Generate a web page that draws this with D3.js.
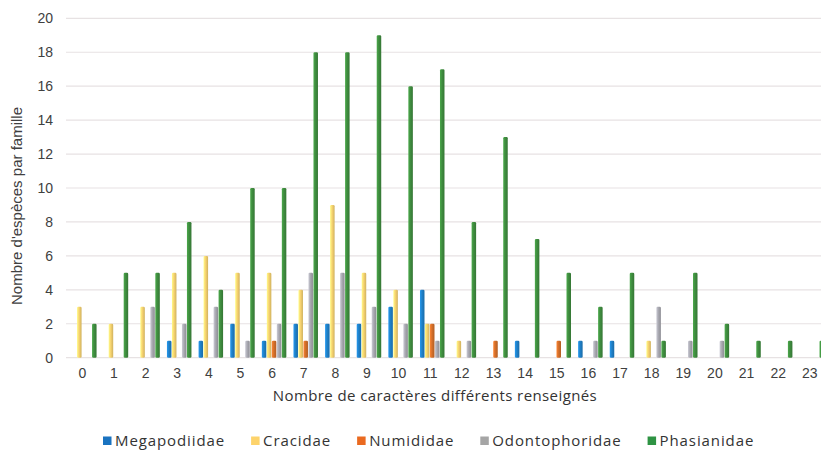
<!DOCTYPE html>
<html>
<head>
<meta charset="utf-8">
<script src="https://cdn.jsdelivr.net/npm/d3@7"></script>
<style>
  body { margin: 0; background: #fff; }
  svg { display: block; }
</style>
</head>
<body>
<div id="chart"></div>
<script>
// Data
const categories = d3.range(0, 24).map(String);
const yTicks = [0, 2, 4, 6, 8, 10, 12, 14, 16, 18, 20];
const seriesNames = ["Megapodiidae", "Cracidae", "Numididae", "Odontophoridae", "Phasianidae"];
const megapodiidae   = [0,0,0,1,1,2,1,2,2,2,3,4,0,0,1,0,1,1,0,0,0,0,0,0];
const cracidae       = [3,2,3,5,6,5,5,4,9,5,4,2,1,0,0,0,0,0,1,0,0,0,0,0];
const numididae      = [0,0,0,0,0,0,1,1,0,0,0,2,0,1,0,1,0,0,0,0,0,0,0,0];
const odontophoridae = [0,0,3,2,3,1,2,5,5,3,2,1,1,0,0,0,1,0,3,1,1,0,0,0];
const phasianidae    = [2,5,5,8,4,10,10,18,18,19,16,17,8,13,7,5,3,5,1,5,2,1,1,1];
const seriesValues = [megapodiidae, cracidae, numididae, odontophoridae, phasianidae];

const barColors = ["#1f80c8", "#f7d370", "#d46f2a", "#a9a9b1", "#3f8d3f"];
const legendColors = ["#1a73c0", "#fdd36b", "#ea6a20", "#a5a5a5", "#2e9343"];

// Layout
const width = 821;
const height = 452;

const svg = d3.select("#chart")
  .append("svg")
  .attr("width", width)
  .attr("height", height);

const defs = svg.append("defs");
barColors.forEach(function (c, i) {
  const g = defs.append("linearGradient")
    .attr("id", "grad-" + i)
    .attr("x1", "0%").attr("x2", "100%")
    .attr("y1", "0%").attr("y2", "0%");
  g.append("stop").attr("offset", "0%").attr("stop-color", d3.color(c).brighter(0.5));
  g.append("stop").attr("offset", "45%").attr("stop-color", c);
  g.append("stop").attr("offset", "100%").attr("stop-color", d3.color(c).darker(0.5));
});

//-----------------------------SCALES-----------------------------//
const x = d3.scaleBand().domain(categories).range([68.5, 827.6]);
const xSub = d3.scaleBand().domain(seriesNames).range([-12.75, 12.75]).padding(0.1);
const y = d3.scaleLinear().domain([0, 20]).range([357.7, 18.3]);

//-----------------------------GRID-----------------------------//
svg.append("g")
  .selectAll("line")
  .data(yTicks)
  .enter()
  .append("line")
  .attr("x1", 66)
  .attr("x2", width)
  .attr("y1", d => y(d))
  .attr("y2", d => y(d))
  .attr("stroke", "#e7e2e3")
  .attr("stroke-width", 1.2);

//-----------------------------AXES-----------------------------//
const yAxis = svg.append("g")
  .attr("transform", "translate(53,0)")
  .call(d3.axisLeft(y).tickValues(yTicks).tickSize(0).tickPadding(0));
yAxis.select(".domain").remove();
yAxis.selectAll("text")
  .attr("font-family", "Liberation Sans, Arial, sans-serif")
  .attr("font-size", 14)
  .attr("fill", "#404040");

const xAxis = svg.append("g")
  .attr("transform", "translate(0,368)")
  .call(d3.axisBottom(x).tickSize(0).tickPadding(0));
xAxis.select(".domain").remove();
xAxis.selectAll("text")
  .attr("dx", -2)
  .attr("dy", "0.71em")
  .attr("font-family", "Liberation Sans, Arial, sans-serif")
  .attr("font-size", 14)
  .attr("fill", "#404040");

svg.append("text")
  .attr("transform", "translate(22,206) rotate(-90)")
  .attr("text-anchor", "middle")
  .attr("font-family", "Liberation Sans, Arial, sans-serif")
  .attr("font-size", 15)
  .attr("fill", "#404040")
  .text("Nombre d'espèces par famille");

svg.append("text")
  .attr("x", 435)
  .attr("y", 401)
  .attr("text-anchor", "middle")
  .attr("font-family", "Open Sans, sans-serif")
  .attr("font-size", 15)
  .attr("letter-spacing", 0.4)
  .attr("fill", "#333")
  .text("Nombre de caractères différents renseignés");

//-----------------------------BARS-----------------------------//
const groups = svg.append("g")
  .selectAll("g")
  .data(categories)
  .enter()
  .append("g")
  .attr("transform", d => `translate(${x(d) + x.bandwidth() / 2},0)`);

groups.selectAll("rect")
  .data(function (d, i) {
    return seriesNames.map(function (s, k) {
      return { series: s, k: k, value: seriesValues[k][i] };
    }).filter(e => e.value > 0);
  })
  .enter()
  .append("rect")
  .attr("x", d => xSub(d.series))
  .attr("width", xSub.bandwidth())
  .attr("y", d => y(d.value))
  .attr("height", d => y(0) - y(d.value))
  .attr("rx", 1.2)
  .attr("fill", d => `url(#grad-${d.k})`);

//-----------------------------LEGEND-----------------------------//
const legend = svg.append("g").attr("transform", "translate(103,441)");
let lx = 0;
seriesNames.forEach(function (s, i) {
  legend.append("rect")
    .attr("x", lx)
    .attr("y", -4.5)
    .attr("width", 8.5)
    .attr("height", 8.5)
    .attr("fill", legendColors[i]);
  const t = legend.append("text")
    .attr("x", lx + 12)
    .attr("y", 0)
    .attr("dy", "0.35em")
    .attr("font-family", "Open Sans, sans-serif")
    .attr("font-size", 15)
    .attr("letter-spacing", 0.9)
    .attr("fill", "#333")
    .text(s);
  lx += 12 + t.node().getComputedTextLength() + 26;
});
</script>
</body>
</html>
